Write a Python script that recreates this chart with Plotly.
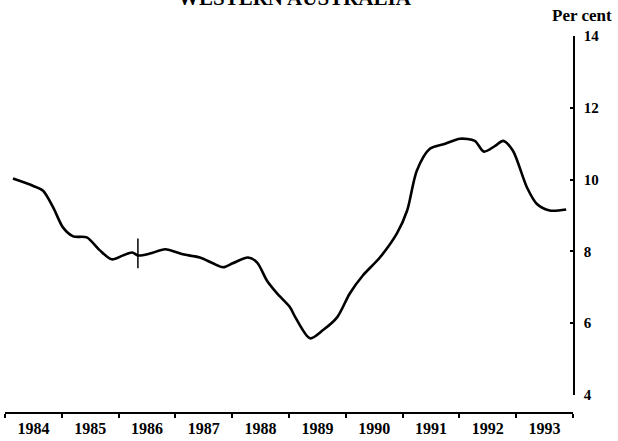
import plotly.graph_objects as go

# Data (decimal year, per cent)
years = [1984.14, 1984.49, 1984.67, 1984.85, 1985.02, 1985.20, 1985.44, 1985.67,
         1985.88, 1986.08, 1986.24, 1986.34, 1986.55, 1986.82, 1987.13, 1987.43,
         1987.66, 1987.84, 1988.01, 1988.28, 1988.44, 1988.61, 1988.79, 1989.02,
         1989.11, 1989.37, 1989.60, 1989.85, 1990.07, 1990.30, 1990.60, 1990.90,
         1991.08, 1991.25, 1991.48, 1991.75, 1992.01, 1992.27, 1992.43, 1992.63,
         1992.77, 1992.94, 1993.19, 1993.36, 1993.59, 1993.88]
values = [10.03, 9.83, 9.69, 9.22, 8.67, 8.42, 8.39, 8.03,
          7.78, 7.89, 7.97, 7.89, 7.94, 8.06, 7.92, 7.83,
          7.67, 7.56, 7.67, 7.83, 7.69, 7.19, 6.83, 6.44,
          6.17, 5.58, 5.81, 6.17, 6.83, 7.33, 7.83, 8.50,
          9.14, 10.25, 10.86, 11.00, 11.14, 11.08, 10.78, 10.94,
          11.08, 10.81, 9.78, 9.33, 9.14, 9.17]

# Series-break marker
break_x = [1986.34, 1986.34]
break_y = [8.36, 7.53]

year_labels = ["1984", "1985", "1986", "1987", "1988",
               "1989", "1990", "1991", "1992", "1993"]
year_starts = [1984, 1985, 1986, 1987, 1988, 1989, 1990, 1991, 1992, 1993]
y_ticks = [4, 6, 8, 10, 12, 14]

FONT = "Liberation Serif"

fig = go.Figure()
fig.add_trace(go.Scatter(x=years, y=values, mode="lines",
                         line=dict(color="black", width=2.6, shape="spline", smoothing=0.8),
                         showlegend=False, hoverinfo="skip"))
fig.add_trace(go.Scatter(x=break_x, y=break_y, mode="lines",
                         line=dict(color="black", width=1.5),
                         showlegend=False, hoverinfo="skip"))

fig.update_layout(
    width=618, height=441,
    margin=dict(l=5, r=45, t=36, b=28, autoexpand=False),
    paper_bgcolor="white", plot_bgcolor="white",
    font=dict(family=FONT, color="black", size=15, weight="bold"),
    xaxis=dict(
        range=[1984, 1994],
        tickvals=[y + 0.5 for y in year_starts],
        ticktext=year_labels,
        ticks="",
        showline=True, linecolor="black", linewidth=2,
        showgrid=False, zeroline=False,
        anchor="free", position=0,
        automargin=False,
        ticklabelstandoff=1,
        minor=dict(tick0=1984, dtick=1, ticks="outside", ticklen=4,
                   tickcolor="black", tickwidth=1.5, showgrid=False),
        tickfont=dict(family=FONT, size=16, color="black", weight="bold"),
    ),
    yaxis=dict(
        range=[4, 14],
        domain=[0.0476, 1],
        side="right",
        tickvals=y_ticks,
        ticks="inside", ticklen=3, tickcolor="black", tickwidth=1.5,
        showline=True, linecolor="black", linewidth=1.6,
        showgrid=False, zeroline=False,
        automargin=False,
        ticklabelstandoff=6,
        tickfont=dict(family=FONT, size=15, color="black", weight="bold"),
    ),
    annotations=[
        dict(text="Per cent", xref="paper", yref="paper", x=1.0722, y=1.025,
             xanchor="right", yanchor="bottom", showarrow=False,
             font=dict(family=FONT, size=17, color="black", weight="bold")),
        dict(text="WESTERN AUSTRALIA", xref="paper", yref="paper", x=0.51, y=1.063,
             xanchor="center", yanchor="bottom", showarrow=False,
             font=dict(family=FONT, size=21, color="black", weight="bold")),
    ],
)

fig.write_html("out.html", config={"displayModeBar": False},
               post_script="document.body.style.margin='0';document.body.style.overflow='hidden';")
